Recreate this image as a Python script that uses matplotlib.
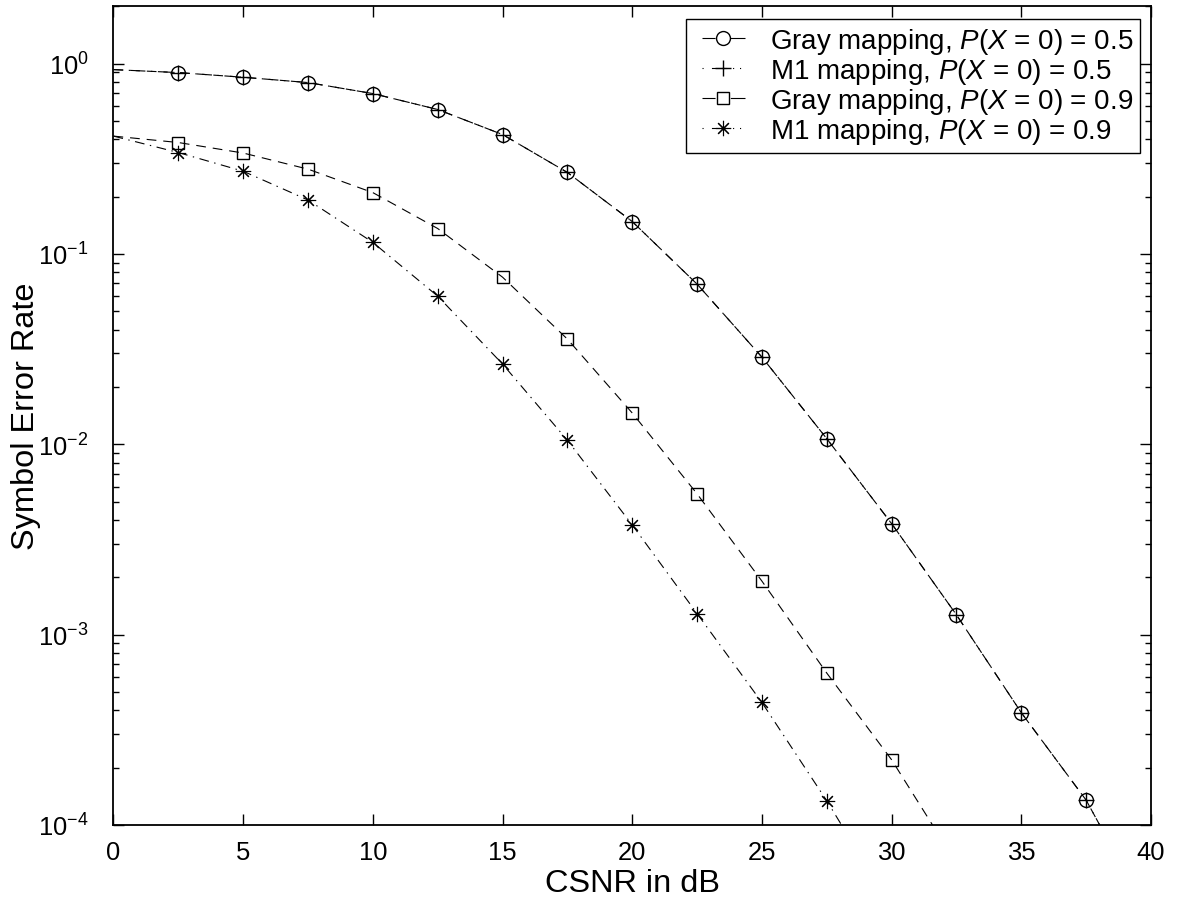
import matplotlib
matplotlib.use("Agg")
import matplotlib.pyplot as plt
from matplotlib.lines import Line2D
from matplotlib.legend_handler import HandlerLine2D
import numpy as np

# CSNR grid (dB) and symbol error rates for each mapping / source probability
csnr_gray05 = [0, 2.5, 5, 7.5, 10, 12.5, 15, 17.5, 20, 22.5, 25, 27.5, 30, 32.5, 35, 37.5, 40]
ser_gray05 = [0.93, 0.897, 0.848, 0.795, 0.696, 0.574, 0.424, 0.268, 0.148, 0.0694,
              0.0287, 0.0107, 0.00383, 0.00127, 0.000389, 0.000135, 3.2e-5]

csnr_m1_05 = csnr_gray05
ser_m1_05 = ser_gray05

csnr_gray09 = [0, 2.5, 5, 7.5, 10, 12.5, 15, 17.5, 20, 22.5, 25, 27.5, 30, 32.5]
ser_gray09 = [0.416, 0.385, 0.339, 0.279, 0.210, 0.136, 0.0755, 0.0357, 0.0146,
              0.00549, 0.00191, 0.000628, 0.000220, 6.3e-5]

csnr_m1_09 = [0, 2.5, 5, 7.5, 10, 12.5, 15, 17.5, 20, 22.5, 25, 27.5, 30]
ser_m1_09 = [0.416, 0.341, 0.272, 0.192, 0.115, 0.060, 0.0264, 0.0105, 0.00377,
             0.00129, 0.00044, 0.000134, 3.7e-5]

labels = [
    r"Gray mapping, $P$($X$ = 0) = 0.5$\;$",
    r"M1 mapping, $P$($X$ = 0) = 0.5$\;$",
    r"Gray mapping, $P$($X$ = 0) = 0.9$\;$",
    r"M1 mapping, $P$($X$ = 0) = 0.9$\;$",
]

plt.rcParams["font.family"] = ["Liberation Sans", "DejaVu Sans"]
plt.rcParams["mathtext.fontset"] = "custom"
plt.rcParams["mathtext.rm"] = "Liberation Sans"
plt.rcParams["mathtext.it"] = "Liberation Sans:italic"
plt.rcParams["mathtext.bf"] = "Liberation Sans:bold"
plt.rcParams["lines.scale_dashes"] = False

DASH = (0, (7, 5))
DASHDOT = (0, (7, 4, 1, 4))
# short legend samples: a dash either side of the marker
LEG_DASH = (0, (9.4, 11.0, 12.0))
LEG_DASHDOT = (0, (0.8, 6.0, 11.0, 4.2, 0.8, 4.2, 0.8, 10.0))
asterisk = (8, 2, 0)


class InsetLine(HandlerLine2D):
    """Line2D legend handler that leaves some blank space before the sample."""

    def __init__(self, inset, **kw):
        super().__init__(**kw)
        self.inset = inset

    def create_artists(self, legend, orig_handle, xdescent, ydescent,
                       width, height, fontsize, trans):
        return super().create_artists(legend, orig_handle, xdescent - self.inset,
                                      ydescent, width - self.inset, height,
                                      fontsize, trans)


fig = plt.figure(figsize=(11.81, 9.03), dpi=100)
ax = fig.add_axes([0.0961, 0.0853, 0.8785, 0.9066])

series = [
    (csnr_gray05, ser_gray05, DASH, LEG_DASH, "o", 10, 1.0),
    (csnr_m1_05, ser_m1_05, DASHDOT, LEG_DASHDOT, "+", 12, 1.0),
    (csnr_gray09, ser_gray09, DASH, LEG_DASH, "s", 8.5, 1.0),
    (csnr_m1_09, ser_m1_09, DASHDOT, LEG_DASHDOT, asterisk, 11, 0.8),
]

handles = []
for (xs, ys, ls, lls, mk, ms, mew), lab in zip(series, labels):
    xs = np.asarray(xs)
    ys = np.asarray(ys)
    ax.semilogy(xs, ys, color="black", linestyle=ls, linewidth=0.8)
    # markers every 2.5 dB, starting at 2.5 dB
    sel = (xs > 0) & (ys >= 1e-4)
    ax.semilogy(xs[sel], ys[sel], linestyle="none", marker=mk, markersize=ms,
                markerfacecolor="none", markeredgecolor="black", markeredgewidth=mew)
    handles.append(Line2D([], [], color="black", linestyle=lls, linewidth=0.8,
                          marker=mk, markersize=ms, markerfacecolor="none",
                          markeredgecolor="black", markeredgewidth=mew))

ax.set_xlim(0, 40)
ax.set_ylim(1e-4, 2.0)
ax.set_xticks([0, 5, 10, 15, 20, 25, 30, 35, 40])
ax.minorticks_off()
ax.yaxis.set_minor_locator(matplotlib.ticker.LogLocator(base=10, subs=np.arange(2, 10)))
ax.yaxis.set_minor_formatter(matplotlib.ticker.NullFormatter())

ax.tick_params(axis="both", which="both", direction="in", top=True, right=True,
               labelsize=18.4, width=1.0, colors="black")
ax.tick_params(axis="both", which="major", length=8)
ax.tick_params(axis="both", which="minor", length=4.5)
ax.tick_params(axis="x", pad=10.5)
ax.tick_params(axis="y", pad=18)
for sp in ax.spines.values():
    sp.set_linewidth(1.3)

ax.set_xlabel("CSNR in dB", fontsize=23.4, labelpad=3)
ax.set_ylabel("Symbol Error Rate", fontsize=23.4, labelpad=-2)

inset_pt = 6.0
leg_fs = 20.0
handle_len = (31.0 + inset_pt) / leg_fs
handler = InsetLine(inset_pt)
leg = ax.legend(handles, labels, loc="upper right", bbox_to_anchor=(0.9894, 0.9845),
                borderaxespad=0, fontsize=leg_fs, frameon=True, fancybox=False,
                edgecolor="black", framealpha=1, handlelength=handle_len,
                handletextpad=0.9, labelspacing=0.0, borderpad=0.25,
                handler_map={h: handler for h in handles})
leg.get_frame().set_linewidth(1.0)

fig.savefig("out.png", dpi=100)
